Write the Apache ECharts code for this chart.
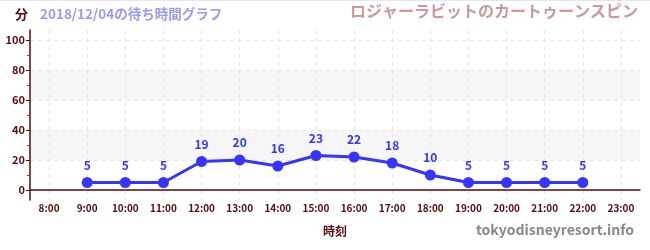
<!DOCTYPE html>
<html><head><meta charset="utf-8">
<script src="https://cdn.jsdelivr.net/npm/echarts@6/dist/echarts.min.js"></script>
<style>html,body{margin:0;padding:0;background:#fff}#c{width:650px;height:250px}</style>
</head><body><div id="c"></div>
<script>
const categories = ['8:00','9:00','10:00','11:00','12:00','13:00','14:00','15:00','16:00','17:00','18:00','19:00','20:00','21:00','22:00','23:00'];
const waitTimes = [null,5,5,5,19,20,16,23,22,18,10,5,5,5,5,null];
const yTicks = [0,20,40,60,80,100];
const yMinorTicks = [10,30,50,70,90];
const titleText = 'ロジャーラビットのカートゥーンスピン';
const subText = '2018/12/04の待ち時間グラフ';
const FONT = '"Noto Sans CJK JP", "Noto Sans", sans-serif';
const AXC = '#5a0a0a';
const chart = echarts.init(document.getElementById('c'));
chart.setOption({
  animation: false,
  textStyle: {fontFamily: FONT},
  graphic: [
    {type:'line', shape:{x1:0,y1:0.5,x2:650,y2:0.5}, style:{stroke:'#e4e4f8', lineWidth:1}},
    {type:'text', left: 15, top: 8, style:{text:'分', fill:AXC, font:'bold 13px '+FONT}},
    {type:'text', left: 40, top: 7, style:{text:subText, fill:'#9a9af0', font:'bold 13.5px '+FONT}},
    {type:'text', right: 12, top: 3, style:{text:titleText, fill:'#cc9999', font:'bold 16px '+FONT}},
    {type:'text', right: 16, top: 223, style:{text:'tokyodisneyresort.info', fill:'#888888', font:'bold 14px '+FONT}}
  ],
  grid: {left: 30, right: 10, top: 30, bottom: 50},
  xAxis: {
    type: 'category', data: categories, boundaryGap: true,
    name: '時刻', nameLocation: 'middle', nameGap: 25,
    nameTextStyle: {color: AXC, fontWeight: 'bold', fontSize: 12, fontFamily: FONT},
    axisLine: {lineStyle: {color: AXC, width: 1.5}},
    axisTick: {inside: true, alignWithLabel: true, length: 4, lineStyle: {color: '#555'}},
    axisLabel: {color: AXC, fontWeight: 'bold', fontSize: 10, margin: 3, fontFamily: FONT},
    splitLine: {show: true, interval: 0, alignWithLabel: true, lineStyle: {color: '#e6e6e6', type: [4,4]}}
  },
  yAxis: [{
    type: 'value', min: -20/3, max: 320/3,
    axisLine: {show: true, lineStyle: {color: AXC, width: 1.5}},
    axisTick: {show: true, customValues: yTicks, length: 4, lineStyle: {color: '#222'}},
    axisLabel: {customValues: yTicks, color: AXC, fontWeight: 'bold', fontSize: 11, margin: 5, fontFamily: FONT},
    splitLine: {show: true, lineStyle: {color: '#e6e6e6', type: [4,4]}},
    splitArea: {show: true, areaStyle: {color: ['rgba(0,0,0,0)', '#f6f6f6']}}
  },{
    type: 'value', min: -20/3, max: 320/3, position: 'left',
    axisLine: {show: false},
    axisTick: {show: true, customValues: yMinorTicks, length: 3, lineStyle: {color: '#dd2222'}},
    axisLabel: {show: false},
    splitLine: {show: false}
  }],
  series: [{
    type: 'line', data: waitTimes, yAxisIndex: 0,
    symbol: 'circle', symbolSize: 11,
    lineStyle: {color: '#3535ff', width: 3},
    itemStyle: {color: '#3535ff'},
    label: {show: true, position: 'top', distance: 6, color: '#3535ff', fontWeight: 'bold', fontSize: 12, fontFamily: FONT},
    z: 5
  }]
});
</script></body></html>
